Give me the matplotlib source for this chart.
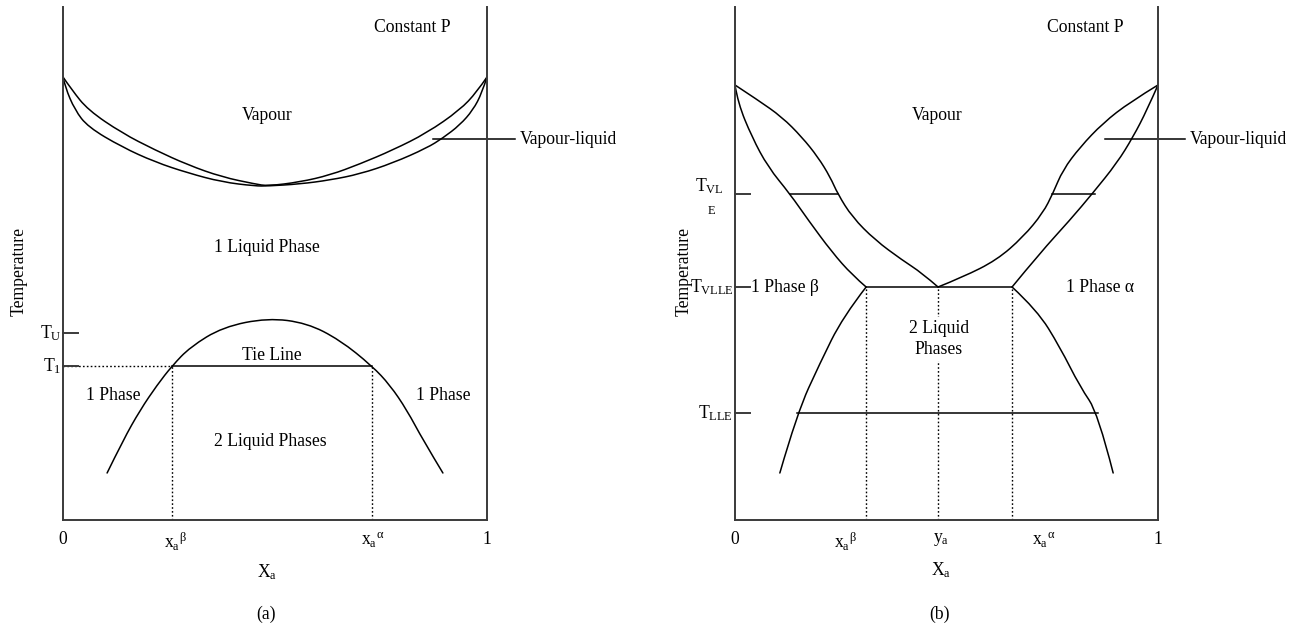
import matplotlib
matplotlib.use('Agg')
import matplotlib.pyplot as plt
from matplotlib.path import Path
from matplotlib.patches import PathPatch

plt.rcParams['font.family'] = ['Liberation Serif', 'DejaVu Serif']
plt.rcParams['mathtext.fontset'] = 'custom'
plt.rcParams['mathtext.rm'] = 'Liberation Serif'
plt.rcParams['mathtext.it'] = 'Liberation Serif:italic'
plt.rcParams['mathtext.bf'] = 'Liberation Serif:bold'

# ---------------- Panel (a) data (x = mole fraction, T = arbitrary temperature units) ----------------
a_dew_x = [0.0, 0.021, 0.059, 0.139, 0.217, 0.295, 0.375, 0.453, 0.483, 0.559, 0.630, 0.700, 0.778, 0.858, 0.936, 0.976, 1.0]
a_dew_T = [443, 430, 410, 387, 370, 355, 343, 336, 334, 338, 345, 356, 370, 387, 410, 428, 443]
a_bub_x = [0.0, 0.005, 0.028, 0.059, 0.139, 0.217, 0.295, 0.375, 0.453, 0.483, 0.559, 0.630, 0.700, 0.778, 0.858, 0.896, 0.936, 0.967, 0.988, 1.0]
a_bub_T = [443, 433, 410, 393, 373, 358, 347, 338, 334, 334, 336, 340, 346, 357, 372, 382, 395, 410, 427, 443]
a_lle_x = [0.104, 0.142, 0.182, 0.222, 0.257, 0.300, 0.377, 0.483, 0.575, 0.653, 0.729, 0.771, 0.811, 0.849, 0.896]
a_lle_T = [47, 80, 110, 135, 154, 173, 193, 202, 197, 180, 154, 135, 110, 80, 47]
a_T_U = 187
a_T_1 = 154
a_x_beta = 0.257
a_x_alpha = 0.729

# ---------------- Panel (b) data ----------------
b_liqL_x = [0.0, 0.007, 0.040, 0.078, 0.130, 0.173, 0.229, 0.277, 0.310]
b_liqL_T = [435, 417, 383, 353, 326, 300, 268, 245, 233]
b_vapL_x = [0.0, 0.054, 0.111, 0.158, 0.196, 0.225, 0.243, 0.277, 0.331, 0.395, 0.442, 0.480]
b_vapL_T = [435, 420, 403, 383, 363, 343, 326, 303, 280, 260, 247, 233]
b_vapR_x = [0.480, 0.539, 0.619, 0.681, 0.728, 0.752, 0.775, 0.816, 0.870, 0.934, 1.0]
b_vapR_T = [233, 243, 260, 283, 307, 327, 350, 373, 397, 418, 435]
b_liqR_x = [0.655, 0.721, 0.792, 0.846, 0.903, 0.941, 0.974, 1.0]
b_liqR_T = [233, 267, 300, 327, 357, 383, 410, 435]
b_lleL_x = [0.310, 0.255, 0.201, 0.147, 0.106]
b_lleL_T = [233, 203, 157, 107, 47]
b_lleR_x = [0.655, 0.714, 0.768, 0.816, 0.858, 0.894]
b_lleR_T = [233, 210, 173, 133, 107, 47]
b_T_VLE = 326
b_T_VLLE = 233
b_T_LLE = 107
b_x_beta = 0.310
b_y_a = 0.480
b_x_alpha = 0.655
b_tieL = [0.130, 0.243]
b_tieR = [0.749, 0.851]
b_lle_tie = [0.147, 0.858]

TOP = 513
FS = 12.7
LC = 'black'
LW = 1.1
AXC = '#3a3a3a'
DOT = (0, (1.2, 1.6))


def smooth_curve(ax, xs, ys):
    """Draw a smooth quadratic-Bezier curve guided by the read-off points."""
    pts = list(zip(xs, ys))
    verts = [pts[0]]
    codes = [Path.MOVETO]
    n = len(pts)
    if n == 2:
        verts.append(pts[1]); codes.append(Path.LINETO)
    else:
        for i in range(1, n - 2):
            mid = ((pts[i][0] + pts[i + 1][0]) / 2, (pts[i][1] + pts[i + 1][1]) / 2)
            verts += [pts[i], mid]
            codes += [Path.CURVE3, Path.CURVE3]
        verts += [pts[n - 2], pts[n - 1]]
        codes += [Path.CURVE3, Path.CURVE3]
    ax.add_patch(PathPatch(Path(verts, codes), fill=False, edgecolor=LC, lw=LW,
                           capstyle='round', joinstyle='round'))


fig = plt.figure(figsize=(13.05, 6.28), dpi=100)
axa = fig.add_axes([63/1305, 108/628, 424/1305, 513/628])
axb = fig.add_axes([735/1305, 108/628, 423/1305, 513/628])

for ax in (axa, axb):
    ax.set_xlim(0, 1)
    ax.set_ylim(0, TOP)
    ax.spines['top'].set_visible(False)
    for s in ('left', 'right', 'bottom'):
        ax.spines[s].set_color(AXC)
        ax.spines[s].set_linewidth(1.4)
    ax.set_yticks([])
    ax.tick_params(axis='x', length=0, pad=8, labelsize=FS)
    ax.set_facecolor('none')

# ---------------- Panel (a) ----------------
smooth_curve(axa, a_dew_x, a_dew_T)
smooth_curve(axa, a_bub_x, a_bub_T)
smooth_curve(axa, a_lle_x, a_lle_T)
axa.plot([a_x_beta, a_x_alpha], [a_T_1, a_T_1], color=LC, lw=LW)
axa.plot([0, a_x_beta], [a_T_1, a_T_1], color=LC, lw=1.0, ls=DOT)
axa.plot([a_x_beta, a_x_beta], [0, a_T_1], color=LC, lw=1.0, ls=DOT)
axa.plot([a_x_alpha, a_x_alpha], [0, a_T_1], color=LC, lw=1.0, ls=DOT)
axa.plot([0, 0.035], [a_T_U, a_T_U], color=AXC, lw=1.4, clip_on=False)
axa.plot([0, 0.035], [a_T_1, a_T_1], color=AXC, lw=1.4, clip_on=False)
axa.plot([0.873, 1.066], [381, 381], color=LC, lw=LW, clip_on=False)

axa.text(-0.004, a_T_U, r'$\mathrm{T_U}$', ha='right', va='center', fontsize=FS)
axa.text(-0.004, a_T_1, r'$\mathrm{T_1}$', ha='right', va='center', fontsize=FS)
axa.text(0.825, 492, 'Constant P', ha='center', va='center', fontsize=FS)
axa.text(0.481, 405, 'Vapour', ha='center', va='center', fontsize=FS)
axa.text(0.481, 272, '1 Liquid Phase', ha='center', va='center', fontsize=FS)
axa.text(0.493, 164, 'Tie Line', ha='center', va='center', fontsize=FS)
axa.text(0.118, 124, '1 Phase', ha='center', va='center', fontsize=FS)
axa.text(0.896, 124, '1 Phase', ha='center', va='center', fontsize=FS)
axa.text(0.488, 78, '2 Liquid Phases', ha='center', va='center', fontsize=FS)
axa.text(1.078, 381, 'Vapour-liquid', ha='left', va='center', fontsize=FS)

axa.set_xticks([0, 0.264, 0.731, 1])
axa.set_xticklabels(['0', r'$\mathrm{x_a}^{\mathrm{β}}$', r'$\mathrm{x_a}^{\mathrm{α}}$', '1'])

# ---------------- Panel (b) ----------------
smooth_curve(axb, b_liqL_x, b_liqL_T)
smooth_curve(axb, b_vapL_x, b_vapL_T)
smooth_curve(axb, b_vapR_x, b_vapR_T)
smooth_curve(axb, b_liqR_x, b_liqR_T)
smooth_curve(axb, b_lleL_x, b_lleL_T)
smooth_curve(axb, b_lleR_x, b_lleR_T)
axb.plot(b_tieL, [b_T_VLE, b_T_VLE], color=LC, lw=LW)
axb.plot(b_tieR, [b_T_VLE, b_T_VLE], color=LC, lw=LW)
axb.plot([b_x_beta, b_x_alpha], [b_T_VLLE, b_T_VLLE], color=LC, lw=LW)
axb.plot(b_lle_tie, [b_T_LLE, b_T_LLE], color=LC, lw=LW)
for xv in (b_x_beta, b_y_a, b_x_alpha):
    axb.plot([xv, xv], [0, b_T_VLLE], color=LC, lw=1.0, ls=DOT)
for tv in (b_T_VLE, b_T_VLLE, b_T_LLE):
    axb.plot([0, 0.035], [tv, tv], color=AXC, lw=1.4, clip_on=False)
axb.plot([0.875, 1.064], [381, 381], color=LC, lw=LW, clip_on=False)

axb.text(-0.026, b_T_VLE + 8, r'$\mathrm{T_{VL}}$', ha='right', va='center', fontsize=FS)
axb.text(-0.055, b_T_VLE - 17, 'E', ha='center', va='center', fontsize=9)
axb.text(-0.002, b_T_VLLE, r'$\mathrm{T_{VLLE}}$', ha='right', va='center', fontsize=FS)
axb.text(-0.004, b_T_LLE, r'$\mathrm{T_{LLE}}$', ha='right', va='center', fontsize=FS)
axb.text(0.827, 492, 'Constant P', ha='center', va='center', fontsize=FS)
axb.text(0.478, 405, 'Vapour', ha='center', va='center', fontsize=FS)
axb.text(0.118, b_T_VLLE, '1 Phase β', ha='center', va='center', fontsize=FS)
axb.text(0.863, b_T_VLLE, '1 Phase α', ha='center', va='center', fontsize=FS)
axb.text(0.482, 181, '2 Liquid\nPhases', ha='center', va='center', fontsize=FS,
         linespacing=1.3, bbox=dict(facecolor='white', edgecolor='none', pad=2))
axb.text(1.076, 381, 'Vapour-liquid', ha='left', va='center', fontsize=FS)

axb.set_xticks([0, 0.262, 0.487, 0.730, 1])
axb.set_xticklabels(['0', r'$\mathrm{x_a}^{\mathrm{β}}$', r'$\mathrm{y_a}$', r'$\mathrm{x_a}^{\mathrm{α}}$', '1'])

# axis titles and panel labels
fig.text(267/1305, 1 - 572/628, r'$\mathrm{X_a}$', ha='center', va='center', fontsize=FS)
fig.text(941/1305, 1 - 570/628, r'$\mathrm{X_a}$', ha='center', va='center', fontsize=FS)
fig.text(19/1305, 1 - 272/628, 'Temperature', ha='center', va='center', rotation=90, fontsize=FS)
fig.text(684/1305, 1 - 272/628, 'Temperature', ha='center', va='center', rotation=90, fontsize=FS)
fig.text(266/1305, 1 - 614/628, '(a)', ha='center', va='center', fontsize=FS)
fig.text(940/1305, 1 - 614/628, '(b)', ha='center', va='center', fontsize=FS)

fig.savefig('out.png', dpi=100, facecolor='white')
